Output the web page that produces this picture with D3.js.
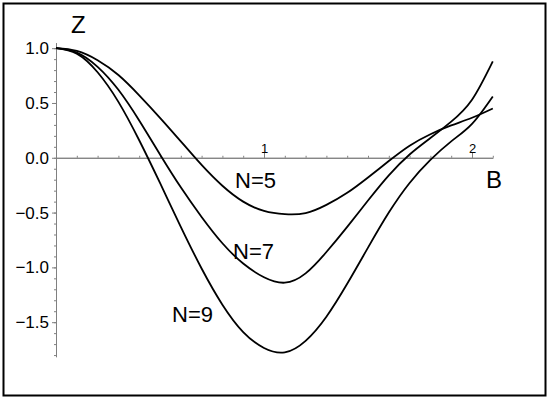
<!doctype html>
<html lang="en">
  <head>
    <meta charset="utf-8">
    <script src="https://d3js.org/d3.v7.min.js"></script>
    <title>Z vs B</title>
    <style>
      body { margin: 0; background: #fff; }
      text { font-family: "Liberation Sans", Arial, Helvetica, sans-serif; }
    </style>
  </head>
  <body>
    <svg width="550" height="400"></svg>

    <script type="text/javascript">

// values, B = 0 .. 2.1 in steps of 0.1
var bValues = [0, 0.1, 0.2, 0.3, 0.4, 0.5, 0.6, 0.7, 0.8, 0.9, 1.0,
               1.1, 1.2, 1.3, 1.4, 1.5, 1.6, 1.7, 1.8, 1.9, 2.0, 2.1]
var zN5 = [1.0, 0.975, 0.89, 0.755, 0.57, 0.365, 0.15, -0.065, -0.255, -0.40, -0.485,
           -0.515, -0.505, -0.43, -0.32, -0.18, -0.03, 0.11, 0.215, 0.295, 0.365, 0.45]
var zN7 = [1.0, 0.96, 0.83, 0.62, 0.34, 0.03, -0.27, -0.54, -0.78, -0.965, -1.09,
           -1.14, -1.055, -0.86, -0.63, -0.39, -0.16, 0.03, 0.18, 0.33, 0.53, 0.88]
var zN9 = [1.0, 0.95, 0.78, 0.51, 0.16, -0.23, -0.63, -1.01, -1.34, -1.59, -1.735,
           -1.775, -1.67, -1.45, -1.15, -0.82, -0.50, -0.23, -0.02, 0.15, 0.31, 0.56]

var seriesNames = ['N=5', 'N=7', 'N=9']
var yMajor = [-1.5, -1.0, -0.5, 0.0, 0.5, 1.0]
var yMinor = d3.range(-18, 11).map(function(d) { return d / 10 })
var xMajor = [1, 2]
var xMinor = d3.range(1, 22).map(function(d) { return d / 10 })

var svg = d3.select("svg")

// frame
svg.append("rect").attr("x", 3.5).attr("y", 3.5).attr("width", 542).attr("height", 392)
  .attr("fill", "none").attr("stroke", "#000").attr("stroke-width", 2)

var x = d3.scaleLinear().domain([0, 2.1]).range([56, 492.8])
var y = d3.scaleLinear().domain([-1.815, 1.05]).range([356.7, 42.7])

var axisColor = "#808080"

// y axis: minor ticks, then labelled major ticks
var gy = svg.append("g").attr("transform", "translate(" + x(0) + ",0)")
gy.call(d3.axisLeft(y).tickValues(yMinor).tickSize(2).tickSizeOuter(0).tickFormat(""))
gy.append("g").call(d3.axisLeft(y).tickValues(yMajor).tickSize(4).tickSizeOuter(0).tickPadding(3).tickFormat(d3.format(".1f")))
gy.selectAll("path,line").attr("stroke", axisColor)
gy.selectAll("text").attr("fill", "#000").style("font-size", "17px")

// x axis, ticks pointing up with the labels above
var gx = svg.append("g").attr("transform", "translate(0," + y(0) + ")")
gx.call(d3.axisTop(x).tickValues(xMinor).tickSize(2).tickSizeOuter(0).tickFormat(""))
gx.append("g").call(d3.axisTop(x).tickValues(xMajor).tickSize(5).tickSizeOuter(0).tickPadding(0).tickFormat(d3.format("d")))
gx.selectAll("path,line").attr("stroke", axisColor)
gx.selectAll("text").attr("fill", "#000").style("font-size", "13px")

// curves
var line = d3.line()
  .x(function(d, i) { return x(bValues[i]) })
  .y(function(d) { return y(d) })
  .curve(d3.curveNatural)

svg.selectAll(".curve").data([zN5, zN7, zN9]).enter().append("path")
  .attr("class", "curve")
  .attr("d", line)
  .attr("fill", "none")
  .attr("stroke", "#000")
  .attr("stroke-width", 1.8)

// labels
svg.append("text").attr("x", 71).attr("y", 33).style("font-size", "24px").text("Z")
svg.append("text").attr("x", 486).attr("y", 188).style("font-size", "24px").text("B")

var labelPos = [[235, 188], [233, 259], [172, 322]]
svg.selectAll(".nlabel").data(seriesNames).enter().append("text")
  .attr("class", "nlabel")
  .attr("x", function(d, i) { return labelPos[i][0] })
  .attr("y", function(d, i) { return labelPos[i][1] })
  .style("font-size", "22px")
  .text(function(d) { return d })

    </script>
  </body>
</html>
